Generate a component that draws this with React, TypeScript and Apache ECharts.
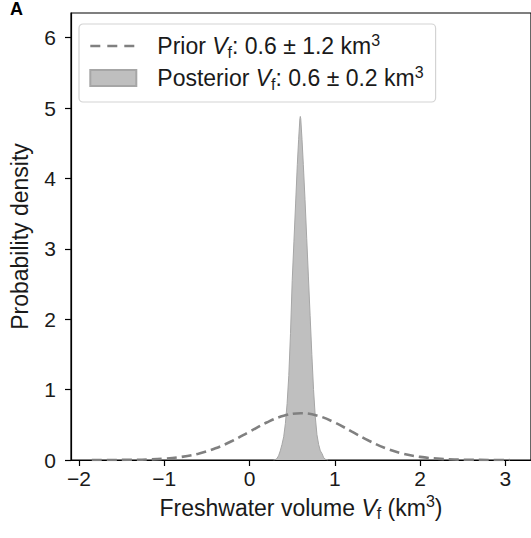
import React, { useEffect, useRef } from "react";
import * as echarts from "echarts";

// Prior density (dashed curve)
const priorX = [-1.85, -1.6, -1.4, -1.2, -1.0, -0.8, -0.6, -0.4, -0.2, 0, 0.2, 0.4, 0.6, 0.8, 1.0, 1.2, 1.4, 1.6, 1.8, 2.0, 2.2, 2.4, 2.6, 2.8, 3.05];
const priorY = [0.0002, 0.0008, 0.0026, 0.0074, 0.019, 0.044, 0.09, 0.166, 0.273, 0.403, 0.532, 0.629, 0.665, 0.629, 0.532, 0.403, 0.273, 0.166, 0.09, 0.044, 0.019, 0.0074, 0.0026, 0.0008, 0.0002];

// Posterior density (filled)
const postX = [0.28, 0.3, 0.32, 0.34, 0.36, 0.38, 0.4, 0.42, 0.44, 0.46, 0.48, 0.5, 0.52, 0.54, 0.56, 0.575, 0.59, 0.595, 0.6, 0.615, 0.63, 0.65, 0.67, 0.69, 0.71, 0.73, 0.75, 0.77, 0.79, 0.81, 0.83, 0.85, 0.87, 0.89, 0.92];
const postY = [0, 0.005, 0.02, 0.06, 0.13, 0.22, 0.33, 0.52, 0.8, 1.2, 1.8, 2.55, 3.1, 3.65, 4.2, 4.55, 4.85, 4.88, 4.85, 4.55, 4.2, 3.7, 3.15, 2.6, 2.05, 1.5, 1.0, 0.62, 0.36, 0.22, 0.13, 0.09, 0.03, 0.01, 0];

const xTicks = [-2, -1, 0, 1, 2, 3];
const yTicks = [0, 1, 2, 3, 4, 5, 6];

const FONT = "'Liberation Sans', Arial, Helvetica, sans-serif";
const INK = "#1a1a1a";

function richStyles(size: number, lead: number) {
  const small = Math.round(size * 0.68);
  const lh = size + 5;
  return {
    first: { fontSize: size, fontFamily: FONT, color: INK, lineHeight: lh, verticalAlign: "middle", padding: [0, 0, 0, lead] },
    n: { fontSize: size, fontFamily: FONT, color: INK, lineHeight: lh, verticalAlign: "middle" },
    i: { fontSize: size, fontFamily: FONT, color: INK, fontStyle: "italic", lineHeight: lh, verticalAlign: "middle" },
    s: { fontSize: small, fontFamily: FONT, color: INK, lineHeight: small, verticalAlign: "bottom" },
    p: { fontSize: small, fontFamily: FONT, color: INK, lineHeight: small, verticalAlign: "top" },
  };
}

export default function App() {
  const ref = useRef<HTMLDivElement>(null);
  useEffect(() => {
    if (!ref.current) return;
    const chart = echarts.init(ref.current, undefined, { renderer: "svg" });
    const minus = (v: number) => String(v).replace("-", "\u2212");
    chart.setOption({
      animation: false,
      backgroundColor: "#ffffff",
      grid: {
        left: 68,
        right: -1,
        top: 13,
        bottom: 78,
        show: true,
        borderColor: "#000",
        borderWidth: 1.2,
        backgroundColor: "transparent",
      },
      xAxis: {
        type: "value",
        min: -2.094,
        max: 3.3,
        name: "{n|Freshwater volume }{i|V}{s|f}{n| (km}{p|3}{n|)}",
        nameLocation: "middle",
        nameGap: 33,
        nameTextStyle: { rich: richStyles(23, 0) },
        axisLine: { show: true, onZero: false, lineStyle: { color: "#000", width: 1.2 } },
        axisTick: { show: true, length: 6, customValues: xTicks, lineStyle: { color: "#000", width: 1.2 } },
        axisLabel: { customValues: xTicks, formatter: minus, margin: 8, fontSize: 21, fontFamily: FONT, color: INK },
        splitLine: { show: false },
      },
      yAxis: {
        type: "value",
        min: 0,
        max: 6.35,
        name: "Probability density",
        nameLocation: "middle",
        nameGap: 40,
        nameTextStyle: { fontSize: 23, fontFamily: FONT, color: INK },
        axisLine: { show: true, onZero: false, lineStyle: { color: "#000", width: 1.2 } },
        axisTick: { show: true, length: 6, customValues: yTicks, lineStyle: { color: "#000", width: 1.2 } },
        axisLabel: { customValues: yTicks, margin: 15, fontSize: 21, fontFamily: FONT, color: INK },
        splitLine: { show: false },
      },
      legend: {
        orient: "vertical",
        left: 79,
        top: 24,
        padding: [8, 12, 10, 10],
        itemGap: 4,
        itemWidth: 46,
        itemHeight: 16,
        borderColor: "#d3d3d3",
        borderWidth: 1.2,
        borderRadius: 4,
        backgroundColor: "#ffffff",
        data: [
          {
            name: "Prior",
            itemStyle: { color: "rgba(0,0,0,0)", borderColor: "rgba(0,0,0,0)", borderWidth: 0 },
            lineStyle: { color: "#808080", width: 2.6, type: [10, 7] },
          },
          { name: "Posterior", icon: "rect" },
        ],
        formatter: (name: string) =>
          name === "Prior"
            ? "{first|Prior }{i|V}{s|f}{n|: 0.6 ± 1.2 km}{p|3}"
            : "{first|Posterior }{i|V}{s|f}{n|: 0.6 ± 0.2 km}{p|3}",
        textStyle: { rich: richStyles(23, 16) },
      },
      graphic: [
        {
          type: "text",
          left: 10,
          top: 0,
          style: { text: "A", fontSize: 18, fontWeight: "bold", fontFamily: FONT, fill: "#000" },
        },
      ],
      series: [
        {
          name: "Posterior",
          type: "line",
          data: postX.map((x, k) => [x, postY[k]]),
          showSymbol: false,
          symbol: "none",
          smooth: false,
          lineStyle: { color: "#a6a6a6", width: 1 },
          itemStyle: { color: "#bfbfbf", borderColor: "#a6a6a6", borderWidth: 1 },
          areaStyle: { color: "#bfbfbf", opacity: 1 },
          z: 2,
        },
        {
          name: "Prior",
          type: "line",
          data: priorX.map((x, k) => [x, priorY[k]]),
          showSymbol: false,
          symbol: "none",
          smooth: 0.4,
          lineStyle: { color: "#808080", width: 2.6, type: [10, 5] },
          itemStyle: { color: "#808080" },
          z: 3,
        },
      ],
    });
    return () => chart.dispose();
  }, []);
  return <div ref={ref} style={{ position: "absolute", left: 0, top: 0, width: 531, height: 538 }} />;
}
